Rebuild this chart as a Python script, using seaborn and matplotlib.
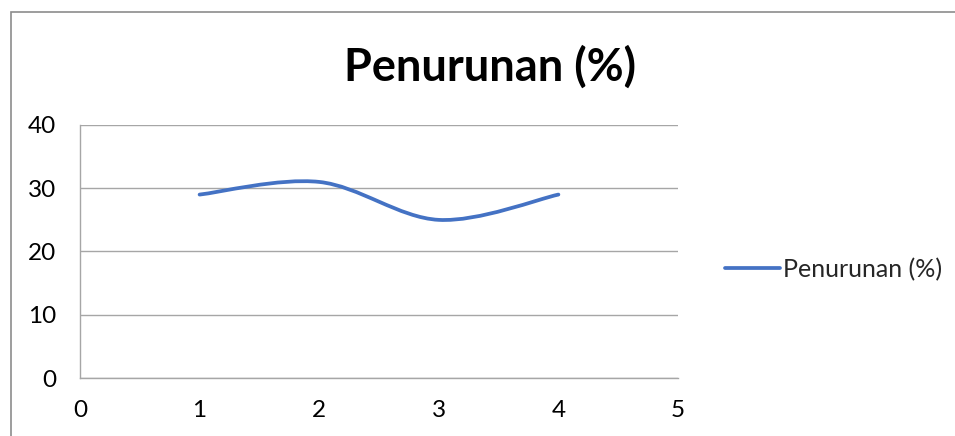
import numpy as np
import seaborn as sns
from matplotlib import pyplot as plt
from matplotlib.path import Path
from matplotlib.patches import PathPatch, Rectangle
from matplotlib.lines import Line2D

# data
x_vals = [1, 2, 3, 4]
y_vals = [29, 31, 25, 29]
series_name = 'Penurunan (%)'
x_ticks = [0, 1, 2, 3, 4, 5]
y_ticks = [0, 10, 20, 30, 40]

sns.set_style('white')
plt.rcParams['font.family'] = ['Lato', 'DejaVu Sans']

blue = '#4472C4'
grid_gray = '#a6a6a6'

fig = plt.figure(figsize=(9.55, 4.36), dpi=100)
ax = fig.add_axes([80 / 955, 1 - 378 / 436, 598 / 955, 253 / 436])

# excel style smoothed line: cubic bezier through the points
pts = np.column_stack([x_vals, y_vals]).astype(float)
padded = np.vstack([pts[0], pts, pts[-1]])
verts = [pts[0]]
codes = [Path.MOVETO]
for i in range(len(pts) - 1):
    p0, p1, p2, p3 = padded[i], padded[i + 1], padded[i + 2], padded[i + 3]
    c1 = p1 + (p2 - p0) / 6
    c2 = p2 - (p3 - p1) / 6
    verts += [c1, c2, p2]
    codes += [Path.CURVE4] * 3
curve = PathPatch(Path(verts, codes), facecolor='none', edgecolor=blue,
                  lw=2.7, capstyle='round', zorder=3)
ax.add_patch(curve)

ax.set_xlim(0, 5)
ax.set_ylim(0, 40)
ax.set_xticks(x_ticks)
ax.set_yticks(y_ticks)
ax.yaxis.grid(True, color=grid_gray, lw=1)
ax.set_axisbelow(True)
sns.despine(ax=ax, top=True, right=True)
for side in ['left', 'bottom']:
    ax.spines[side].set_color(grid_gray)
    ax.spines[side].set_linewidth(1)
ax.tick_params(axis='both', length=6, width=1, color=grid_gray,
               labelsize=17.5, labelcolor='black', direction='out')
ax.tick_params(axis='y', pad=11)
ax.tick_params(axis='x', pad=10)

fig.text(490 / 955, 1 - 67 / 436, series_name, fontsize=32.5,
         fontweight='bold', color='black', ha='center', va='center')

handle = Line2D([], [], color=blue, lw=2.7, solid_capstyle='round')
ax.legend([handle], [series_name], loc='center left',
          bbox_to_anchor=(1.078, 0.43), frameon=False, fontsize=18,
          handlelength=2.2, handletextpad=0.15, borderaxespad=0,
          borderpad=0)

# chart area border (cropped at right and bottom)
fig.patches.append(Rectangle((11 / 955, -0.1), 1.2, 1.1 - 12 / 436,
                             transform=fig.transFigure, fill=False,
                             edgecolor='#8c8c8c', lw=1.2))

fig.savefig('out.png', dpi=100)
